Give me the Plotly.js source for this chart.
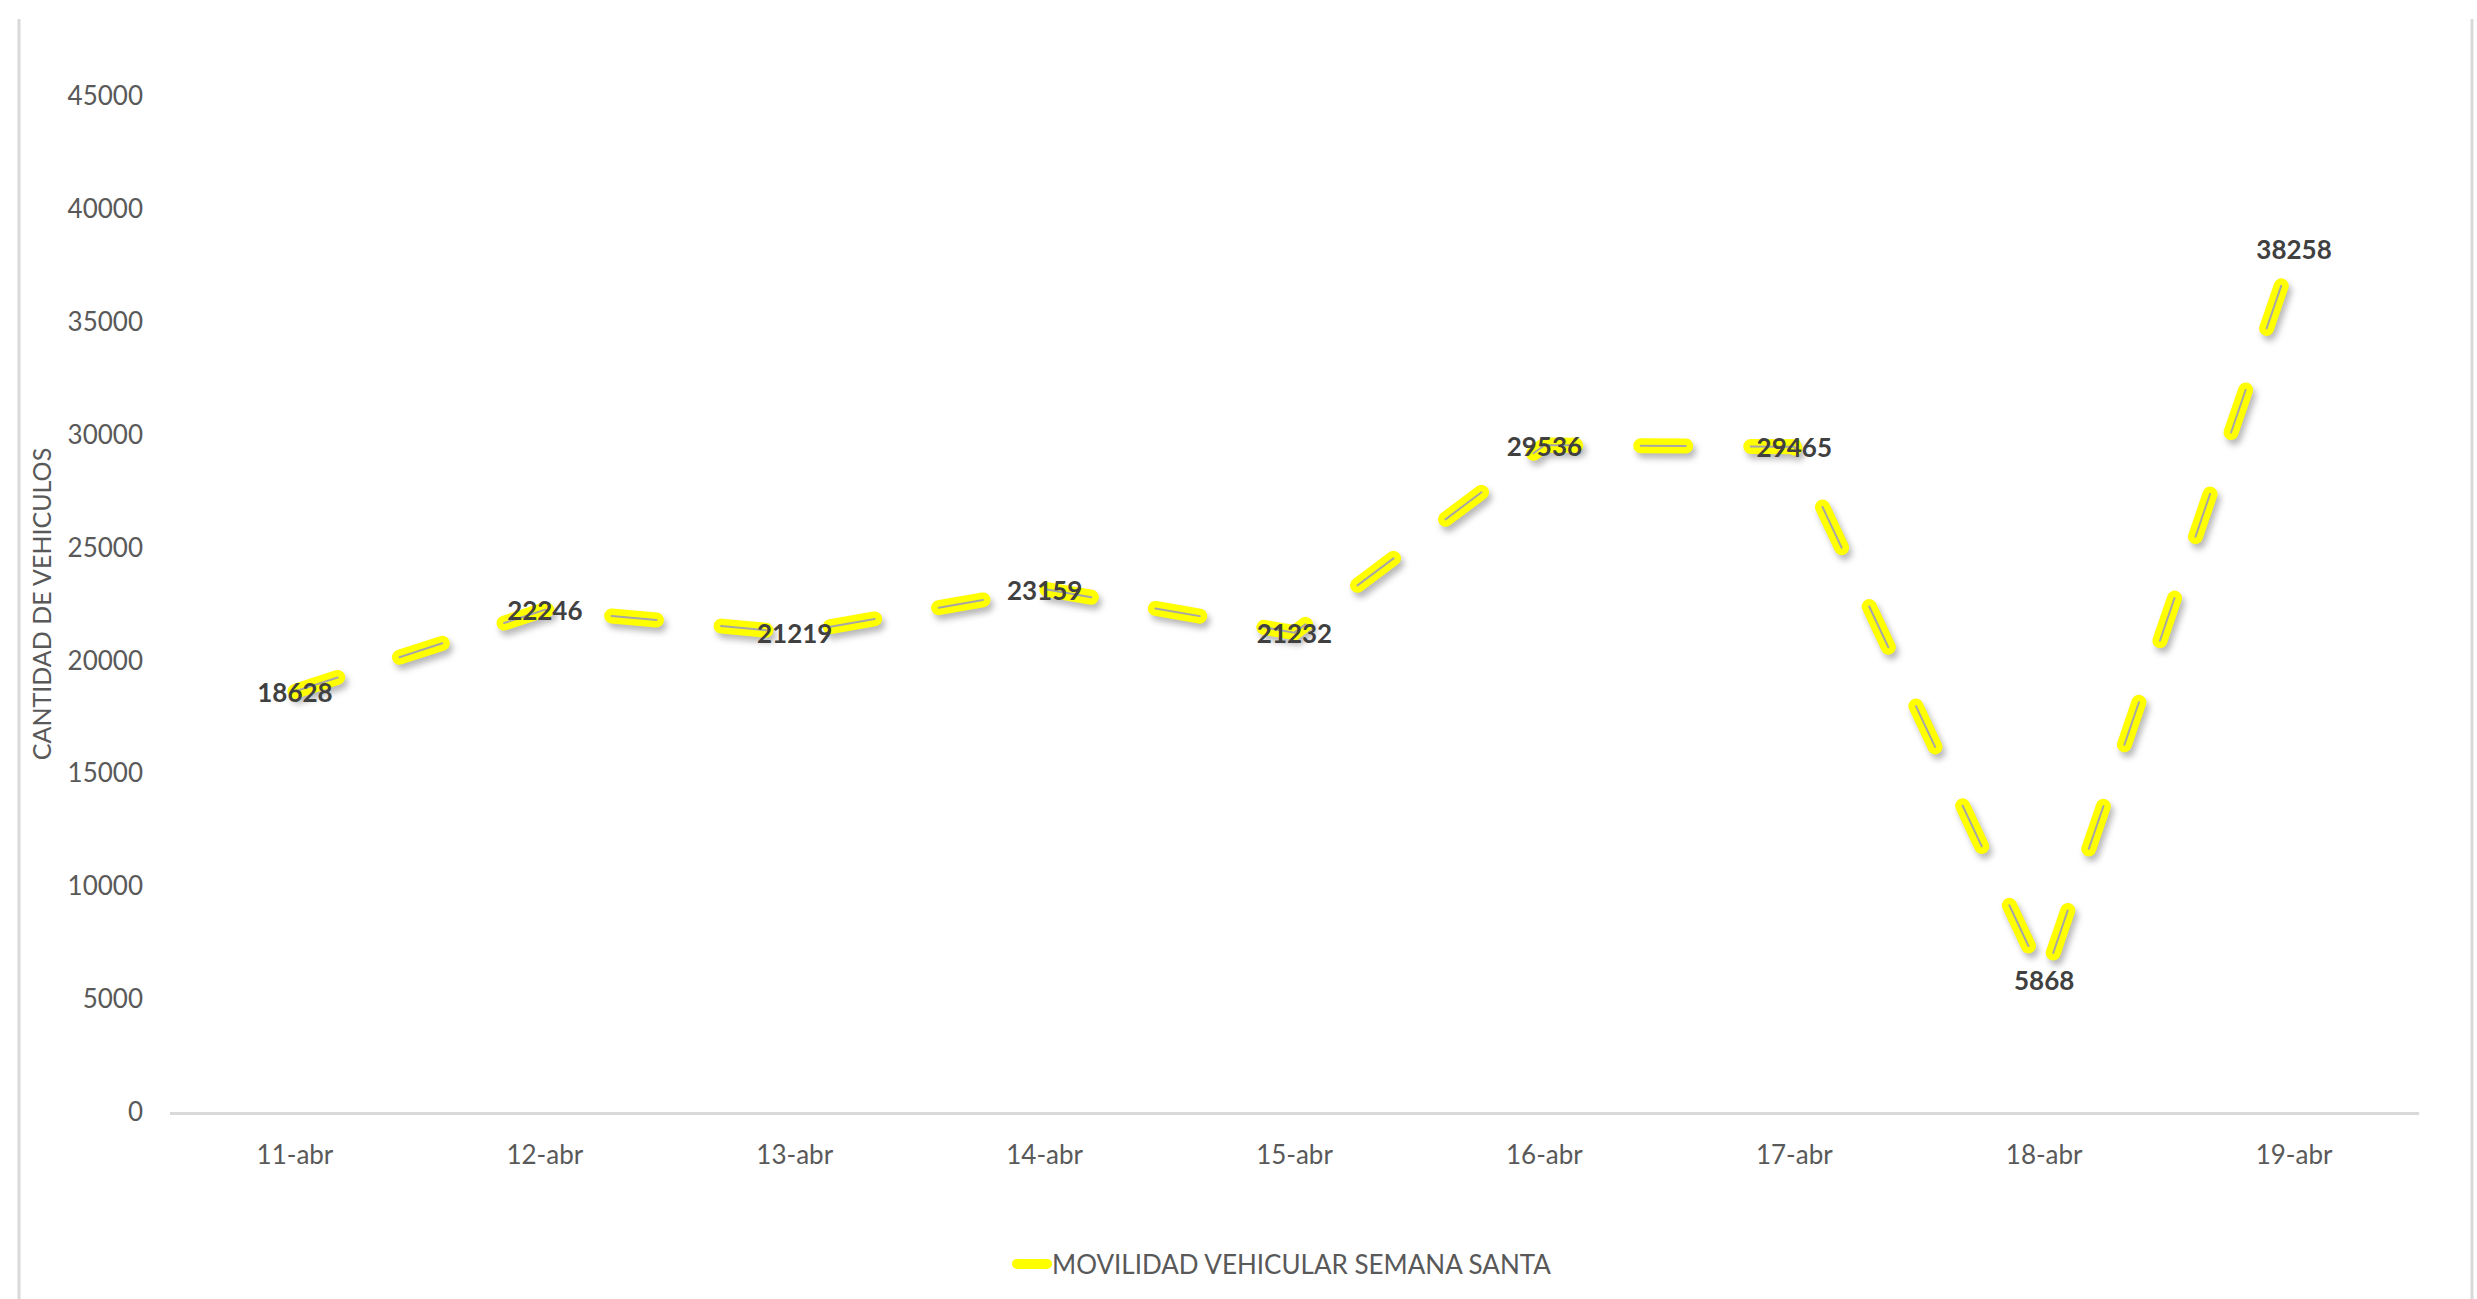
<!DOCTYPE html>
<html>
<head>
<meta charset="utf-8">
<script src="https://cdn.plot.ly/plotly-3.0.1.min.js"></script>
<style>
html,body{margin:0;padding:0;background:#fff;}
#chart{width:2477px;height:1299px;}
#chart .scatterlayer .trace path.js-line{stroke-linecap:round;}
#chart .scatterlayer .trace:first-child path.js-line{filter:drop-shadow(3px 5px 3px rgba(0,0,0,0.28));}
#chart .legend path.js-line{stroke-linecap:round;}
</style>
</head>
<body>
<div id="chart"></div>
<script>
const categories = ["11-abr","12-abr","13-abr","14-abr","15-abr","16-abr","17-abr","18-abr","19-abr"];
const vehiculos = [18628, 22246, 21219, 23159, 21232, 29536, 29465, 5868, 38258];
const seriesName = "MOVILIDAD VEHICULAR SEMANA SANTA";
const yTitle = "CANTIDAD DE VEHICULOS";
const yTicks = [0,5000,10000,15000,20000,25000,30000,35000,40000,45000];

const dashPattern = "45px,65px";
const font = "Lato, 'Open Sans', sans-serif";

const traces = [
  {
    x: categories, y: vehiculos, type: "scatter", mode: "lines",
    name: seriesName,
    line: {color: "#FFFF00", width: 15, dash: dashPattern, shape: "linear"},
    hoverinfo: "skip", showlegend: true
  },
  {
    x: categories, y: vehiculos, type: "scatter", mode: "lines+text",
    name: seriesName,
    line: {color: "#A6A6A6", width: 2, dash: dashPattern},
    text: vehiculos.map(String),
    textposition: "middle center",
    textfont: {family: font, size: 26, color: "#404040", weight: 700},
    hoverinfo: "skip", showlegend: false
  }
];

const L = 170, R = 2419, T = 96, B = 1112;
const px = v => (v - L) / (R - L);
const py = v => (B - v) / (B - T);

const layout = {
  width: 2477, height: 1299,
  margin: {l: L, r: 2477 - R, t: T, b: 1299 - B},
  paper_bgcolor: "#ffffff", plot_bgcolor: "#ffffff",
  font: {family: font, color: "#595959", size: 26},
  xaxis: {
    type: "category", showgrid: false, zeroline: false,
    showline: true, linecolor: "#D9D9D9", linewidth: 3,
    ticks: "", ticklabelstandoff: 18,
    tickfont: {family: font, size: 26, color: "#595959"},
    range: [-0.5, 8.5], fixedrange: true
  },
  yaxis: {
    range: [0, 45000], tickvals: yTicks, ticktext: yTicks.map(String),
    showgrid: false, zeroline: false, showline: false,
    ticks: "", ticklabelstandoff: 26,
    tickfont: {family: font, size: 26, color: "#595959"},
    title: {text: yTitle, font: {family: font, size: 25, color: "#595959"}, standoff: 8},
    fixedrange: true
  },
  showlegend: true,
  legend: {
    orientation: "h", x: px(1012), xanchor: "left", y: py(1264), yanchor: "middle",
    font: {family: font, size: 26, color: "#595959"}, bgcolor: "rgba(0,0,0,0)"
  },
  shapes: [
    {type: "line", xref: "paper", yref: "paper", x0: px(19), x1: px(19), y0: py(19), y1: py(1299),
     line: {color: "#D9D9D9", width: 3}},
    {type: "line", xref: "paper", yref: "paper", x0: px(2472), x1: px(2472), y0: py(19), y1: py(1299),
     line: {color: "#D9D9D9", width: 3}}
  ]
};

Plotly.newPlot("chart", traces, layout, {displayModeBar: false, staticPlot: true}).then(gd => {
  gd.querySelectorAll(".scatterlayer .trace .textpoint text").forEach(t => {
    t.setAttribute("dy", "4");
  });
});
</script>
</body>
</html>
